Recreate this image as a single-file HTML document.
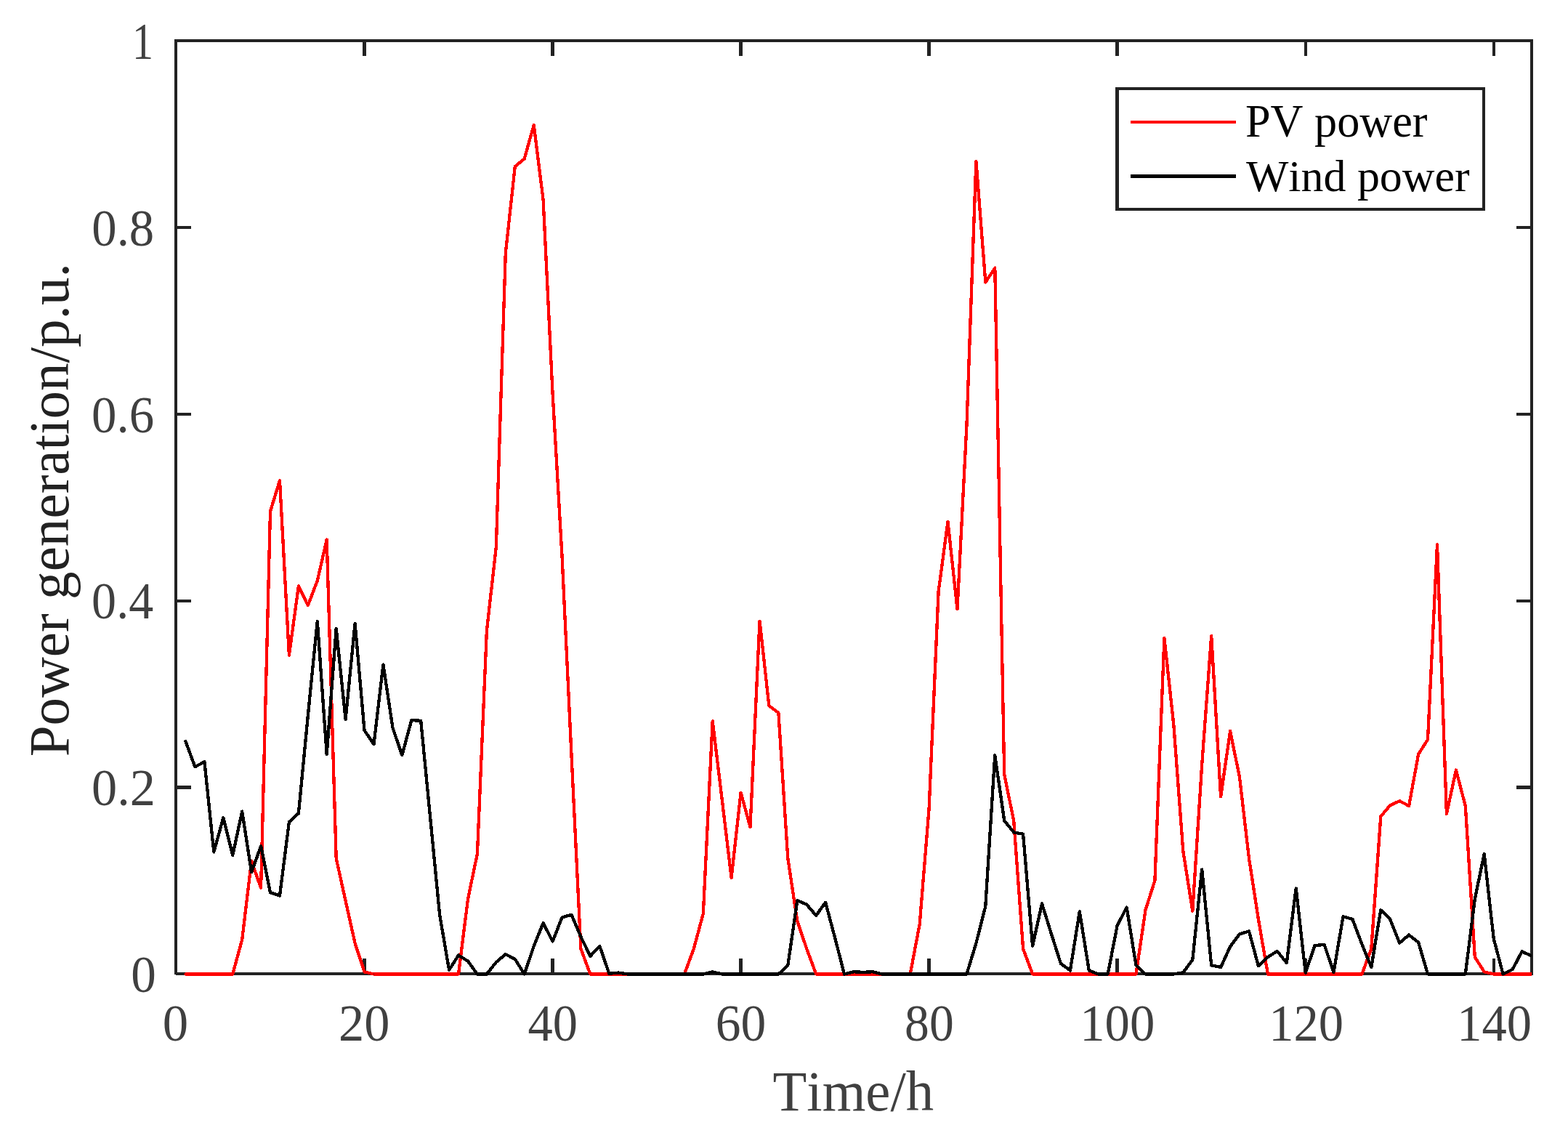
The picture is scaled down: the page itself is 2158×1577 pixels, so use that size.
<!DOCTYPE html>
<html lang="en">
<head>
<meta charset="utf-8">
<title>PV and wind power generation</title>
<style>
html,body{margin:0;padding:0;background:#ffffff;}
body{width:2158px;height:1577px;overflow:hidden;}
svg{display:block;}
text{font-family:"Liberation Serif","Times New Roman",Times,serif;font-kerning:none;font-variant-ligatures:none;white-space:pre;}
</style>
</head>
<body>
<svg width="2158" height="1577" viewBox="0 0 2158 1577">
<rect x="0" y="0" width="2158" height="1577" fill="#ffffff"/>
<g fill="#222222" shape-rendering="crispEdges">
<rect x="240" y="54" width="4" height="1287"/>
<rect x="2106" y="54" width="4" height="1288"/>
<rect x="240" y="54" width="1870" height="4"/>
<rect x="242" y="1338" width="1868" height="4"/>
<rect x="499" y="1319" width="5" height="21"/><rect x="499" y="56" width="5" height="21"/>
<rect x="758" y="1319" width="5" height="21"/><rect x="758" y="56" width="5" height="21"/>
<rect x="1017" y="1319" width="5" height="21"/><rect x="1017" y="56" width="5" height="21"/>
<rect x="1276" y="1319" width="5" height="21"/><rect x="1276" y="56" width="5" height="21"/>
<rect x="1535" y="1319" width="5" height="21"/><rect x="1535" y="56" width="5" height="21"/>
<rect x="1795" y="1319" width="4" height="21"/><rect x="1795" y="56" width="4" height="21"/>
<rect x="2054" y="1319" width="4" height="21"/><rect x="2054" y="56" width="4" height="21"/>
<rect x="242" y="1081" width="21" height="5"/><rect x="2087" y="1081" width="21" height="5"/>
<rect x="242" y="825" width="21" height="4"/><rect x="2087" y="825" width="21" height="4"/>
<rect x="242" y="568" width="21" height="4"/><rect x="2087" y="568" width="21" height="4"/>
<rect x="242" y="311" width="21" height="4"/><rect x="2087" y="311" width="21" height="4"/>
</g>
<clipPath id="c"><rect x="200" y="0" width="1908" height="1400"/></clipPath>
<g clip-path="url(#c)" fill="none" stroke-width="4.3" stroke-linejoin="round" stroke-linecap="round" shape-rendering="crispEdges">
<polyline stroke="#ff0000" points="255.5,1340.5 268.4,1340.5 281.4,1340.5 294.3,1340.5 307.3,1340.5 320.2,1340.5 333.2,1292.9 346.1,1185.1 359.1,1221.9 372.0,703.7 385.0,661.3 397.9,901.8 410.9,806.4 423.8,833.1 436.8,799.1 449.7,742.5 462.7,1181.3 475.6,1239.6 488.6,1298.0 501.5,1337.3 514.5,1340.5 527.4,1340.5 540.4,1340.5 553.3,1340.5 566.3,1340.5 579.2,1340.5 592.2,1340.5 605.1,1340.5 618.1,1340.5 631.0,1340.5 644.0,1237.1 656.9,1175.0 669.9,867.6 682.8,753.4 695.8,348.3 708.8,229.1 721.7,218.5 734.7,172.1 747.6,274.8 760.6,541.8 773.5,765.0 786.5,1039.3 799.4,1305.6 812.4,1340.5 825.3,1340.5 838.3,1340.5 851.2,1340.5 864.2,1340.5 877.1,1340.5 890.1,1340.5 903.0,1340.5 916.0,1340.5 928.9,1340.5 941.9,1340.5 954.8,1305.6 967.8,1257.4 980.7,992.4 993.7,1100.1 1006.6,1207.9 1019.6,1090.8 1032.5,1138.2 1045.5,854.7 1058.4,971.1 1071.4,980.9 1084.3,1181.3 1097.3,1267.6 1110.2,1305.6 1123.2,1340.5 1136.1,1340.5 1149.1,1340.5 1162.0,1340.5 1175.0,1340.5 1188.0,1340.5 1200.9,1340.5 1213.9,1340.5 1226.8,1340.5 1239.8,1340.5 1252.7,1340.5 1265.7,1271.7 1278.6,1112.8 1291.6,814.1 1304.5,717.8 1317.5,838.2 1330.4,586.0 1343.4,221.8 1356.3,388.5 1369.3,368.7 1382.2,1065.9 1395.2,1129.3 1408.1,1305.6 1421.1,1340.5 1434.0,1340.5 1447.0,1340.5 1459.9,1340.5 1472.9,1340.5 1485.8,1340.5 1498.8,1340.5 1511.7,1340.5 1524.7,1340.5 1537.6,1340.5 1550.6,1340.5 1563.5,1340.5 1576.5,1252.3 1589.4,1211.7 1602.4,878.0 1615.3,997.3 1628.3,1171.2 1641.3,1253.6 1654.2,1052.0 1667.2,875.0 1680.1,1096.3 1693.1,1005.8 1706.0,1069.7 1719.0,1181.3 1731.9,1265.0 1744.9,1340.5 1757.8,1340.5 1770.8,1340.5 1783.7,1340.5 1796.7,1340.5 1809.6,1340.5 1822.6,1340.5 1835.5,1340.5 1848.5,1340.5 1861.4,1340.5 1874.4,1340.5 1887.3,1305.6 1900.3,1123.5 1913.2,1108.3 1926.2,1102.2 1939.1,1109.0 1952.1,1038.0 1965.0,1017.7 1978.0,749.2 1990.9,1119.9 2003.9,1059.6 2016.8,1109.0 2029.8,1317.0 2042.7,1337.3 2055.7,1340.5 2068.6,1340.5 2081.6,1340.5 2094.6,1340.5 2107.5,1340.5"/>
<polyline stroke="#000000" points="255.5,1020.3 268.4,1055.3 281.4,1048.2 294.3,1172.4 307.3,1125.5 320.2,1177.0 333.2,1116.6 346.1,1200.3 359.1,1164.3 372.0,1228.2 385.0,1232.5 397.9,1131.1 410.9,1119.2 423.8,985.0 436.8,854.9 449.7,1038.0 462.7,865.0 475.6,989.8 488.6,857.9 501.5,1005.0 514.5,1024.1 527.4,914.5 540.4,1001.2 553.3,1039.3 566.3,991.1 579.2,991.8 592.2,1125.5 605.1,1258.7 618.1,1334.8 631.0,1314.5 644.0,1322.6 656.9,1340.5 669.9,1340.5 682.8,1324.1 695.8,1313.2 708.8,1319.8 721.7,1340.5 734.7,1302.1 747.6,1270.1 760.6,1295.5 773.5,1262.5 786.5,1258.7 799.4,1289.1 812.4,1315.7 825.3,1301.8 838.3,1339.8 851.2,1338.6 864.2,1340.5 877.1,1340.5 890.1,1340.5 903.0,1340.5 916.0,1340.5 928.9,1340.5 941.9,1340.5 954.8,1340.5 967.8,1340.5 980.7,1337.3 993.7,1340.5 1006.6,1340.5 1019.6,1340.5 1032.5,1340.5 1045.5,1340.5 1058.4,1340.5 1071.4,1340.5 1084.3,1328.4 1097.3,1239.1 1110.2,1244.7 1123.2,1259.9 1136.1,1241.7 1149.1,1290.4 1162.0,1340.5 1175.0,1337.3 1188.0,1337.8 1200.9,1337.3 1213.9,1340.5 1226.8,1340.5 1239.8,1340.5 1252.7,1340.5 1265.7,1340.5 1278.6,1340.5 1291.6,1340.5 1304.5,1340.5 1317.5,1340.5 1330.4,1340.5 1343.4,1298.0 1356.3,1247.3 1369.3,1039.3 1382.2,1129.3 1395.2,1145.3 1408.1,1147.8 1421.1,1301.8 1434.0,1243.5 1447.0,1285.3 1459.9,1325.9 1472.9,1335.5 1485.8,1254.4 1498.8,1335.5 1511.7,1340.5 1524.7,1340.5 1537.6,1273.9 1550.6,1248.5 1563.5,1328.4 1576.5,1340.5 1589.4,1340.5 1602.4,1340.5 1615.3,1340.5 1628.3,1338.3 1641.3,1320.8 1654.2,1196.5 1667.2,1328.4 1680.1,1331.0 1693.1,1302.6 1706.0,1285.3 1719.0,1281.5 1731.9,1329.2 1744.9,1317.0 1757.8,1308.9 1770.8,1325.1 1783.7,1222.4 1796.7,1338.6 1809.6,1301.0 1822.6,1300.0 1835.5,1337.8 1848.5,1261.2 1861.4,1265.0 1874.4,1299.3 1887.3,1331.0 1900.3,1252.3 1913.2,1265.0 1926.2,1297.5 1939.1,1286.6 1952.1,1296.7 1965.0,1340.5 1978.0,1340.5 1990.9,1340.5 2003.9,1340.5 2016.8,1340.5 2029.8,1237.1 2042.7,1175.0 2055.7,1291.6 2068.6,1340.5 2081.6,1334.0 2094.6,1309.4 2107.5,1315.2"/>
</g>
<g shape-rendering="crispEdges">
<rect x="1535" y="120" width="509" height="170" fill="#222222"/>
<rect x="1540" y="124" width="500" height="162" fill="#ffffff"/>
<rect x="1556" y="166" width="145" height="4" fill="#ff0000"/>
<rect x="1556" y="240" width="145" height="5" fill="#000000"/>
</g>
<g>
<text transform="translate(180.26 1365.17) scale(0.9526 1)" font-size="72.60" fill="#404040">0</text>
<text transform="translate(126.01 1108.03) scale(0.9692 1)" font-size="72.60" fill="#404040">0.2</text>
<text transform="translate(126.10 850.83) scale(0.9374 1)" font-size="72.60" fill="#404040">0.4</text>
<text transform="translate(126.07 594.83) scale(0.9487 1)" font-size="72.60" fill="#404040">0.6</text>
<text transform="translate(126.27 338.03) scale(0.9472 1)" font-size="72.60" fill="#404040">0.8</text>
<text transform="translate(182.07 81.00) scale(0.8000 1)" font-size="72.60" fill="#404040">1</text>
<text transform="translate(223.80 1432.30) scale(0.9753 1)" font-size="72.60" fill="#404040">0</text>
<text transform="translate(466.10 1432.30) scale(0.9694 1)" font-size="72.60" fill="#404040">20</text>
<text transform="translate(726.56 1432.30) scale(0.9443 1)" font-size="72.60" fill="#404040">40</text>
<text transform="translate(984.81 1432.30) scale(0.9579 1)" font-size="72.60" fill="#404040">60</text>
<text transform="translate(1245.12 1432.30) scale(0.9320 1)" font-size="72.60" fill="#404040">80</text>
<text transform="translate(1486.26 1432.30) scale(0.9464 1)" font-size="72.60" fill="#404040">100</text>
<text transform="translate(1746.27 1432.30) scale(0.9444 1)" font-size="72.60" fill="#404040">120</text>
<text transform="translate(2005.17 1432.30) scale(0.9444 1)" font-size="72.60" fill="#404040">140</text>
<text transform="translate(1063.41 1528.00) scale(0.9871 1)" font-size="77.80" fill="#404040">Time/h</text>
<text transform="translate(1714.01 188.20) scale(0.9920 1)" font-size="62.70" fill="#000000">PV power</text>
<text transform="translate(1714.93 262.90) scale(0.9936 1)" font-size="62.30" fill="#000000">Wind power</text>
<text transform="translate(93.60 1041.32) rotate(-90) scale(0.9891 1)" font-size="78.00" fill="#222222">Power generation/p.u.</text>
</g>
</svg>
</body>
</html>
